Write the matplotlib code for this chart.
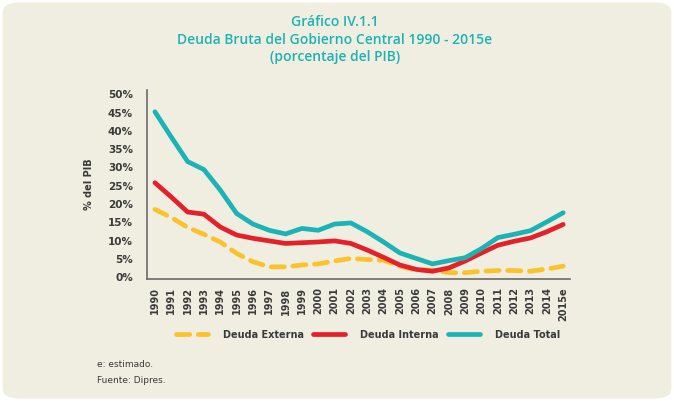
import matplotlib
matplotlib.use("Agg")
import matplotlib.pyplot as plt
from matplotlib.patches import FancyBboxPatch
from matplotlib.lines import Line2D

years = list(range(1990, 2016))
tick_labels = [str(y) for y in range(1990, 2015)] + ["2015e"]
deuda_total = [45.2, 38.3, 31.6, 29.4, 23.8, 17.4, 14.5, 12.8, 11.8, 13.3, 12.8, 14.5, 14.8,
               12.4, 9.6, 6.6, 5.1, 3.6, 4.5, 5.3, 7.8, 10.8, 11.7, 12.7, 15.1, 17.6]
deuda_interna = [25.8, 21.9, 17.8, 17.2, 13.7, 11.5, 10.6, 9.9, 9.2, 9.4, 9.6, 9.9, 9.2,
                 7.4, 5.4, 3.3, 2.1, 1.6, 2.5, 4.4, 6.6, 8.7, 9.8, 10.7, 12.4, 14.4]
deuda_externa = [18.5, 16.3, 13.6, 11.7, 9.6, 6.5, 4.2, 2.8, 2.8, 3.3, 3.6, 4.4, 5.1,
                 4.8, 4.6, 3.0, 1.9, 1.9, 1.2, 1.2, 1.6, 1.8, 1.8, 1.6, 2.2, 3.0]
yticks = [0, 5, 10, 15, 20, 25, 30, 35, 40, 45, 50]

C_TOT = "#1bb3b5"
C_INT = "#e42129"
C_EXT = "#fcc22b"
BG = "#f0eee1"
TXT = "#3a3a3a"

fig = plt.figure(figsize=(6.74, 4.01), dpi=100)
fig.patch.set_facecolor("white")
bg = FancyBboxPatch((0.004, 0.006), 0.992, 0.988, boxstyle="round,pad=0,rounding_size=0.025",
                    transform=fig.transFigure, facecolor=BG, edgecolor="none", zorder=-10)
fig.patches.append(bg)

ax = fig.add_axes([0.218, 0.304, 0.628, 0.471])
ax.set_facecolor("none")
lw = 3.4
ax.plot(years, deuda_externa, color=C_EXT, lw=lw, dashes=(2.8, 1.8), solid_capstyle="round",
        dash_capstyle="round")
ax.plot(years, deuda_interna, color=C_INT, lw=lw, solid_capstyle="round")
ax.plot(years, deuda_total, color=C_TOT, lw=lw, solid_capstyle="round")

ax.set_xlim(1989.51, 2015.43)
ax.set_ylim(-0.55, 51.1)
ax.set_xticks(years)
ax.set_xticklabels(tick_labels, rotation=90, fontsize=7, fontweight="bold", color=TXT)
ax.set_yticks(yticks)
ax.set_yticklabels([f"{v}%" for v in yticks], fontsize=7.5, fontweight="bold", color=TXT)
ax.tick_params(length=0, pad=10)
ax.tick_params(axis="x", pad=6)
for s in ["top", "right"]:
    ax.spines[s].set_visible(False)
for s in ["left", "bottom"]:
    ax.spines[s].set_color("#6b6b6b")
    ax.spines[s].set_linewidth(1.2)
ax.set_ylabel("% del PIB", fontsize=7, fontweight="bold", color=TXT, labelpad=10)

handles = [Line2D([], [], color=C_EXT, lw=lw, dashes=(2.8, 1.8), dash_capstyle="round"),
           Line2D([], [], color=C_INT, lw=lw, solid_capstyle="round"),
           Line2D([], [], color=C_TOT, lw=lw, solid_capstyle="round")]
leg = fig.legend(handles, ["Deuda Externa", "Deuda Interna", "Deuda Total"],
                 loc="center", bbox_to_anchor=(0.546, 0.165), ncol=3, frameon=False,
                 handlelength=3.3, handletextpad=1.5, columnspacing=1.0,
                 prop={"size": 7, "weight": "bold"})
for t in leg.get_texts():
    t.set_color(TXT)

title_kw = dict(ha="center", va="center", color=C_TOT, fontsize=10, fontweight="semibold",
                family="Open Sans")
fig.text(0.497, 0.945, "Gráfico IV.1.1", **title_kw)
fig.text(0.497, 0.900, "Deuda Bruta del Gobierno Central 1990 - 2015e", **title_kw)
fig.text(0.497, 0.857, "(porcentaje del PIB)", **title_kw)

fig.text(0.144, 0.090, "e: estimado.", fontsize=6.5, color=TXT, va="center")
fig.text(0.144, 0.052, "Fuente: Dipres.", fontsize=6.5, color=TXT, va="center")

fig.savefig("out.png", dpi=100, facecolor=fig.get_facecolor())
